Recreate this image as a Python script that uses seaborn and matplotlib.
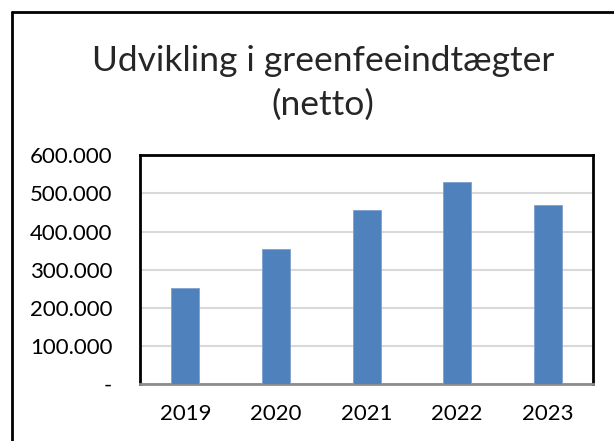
import matplotlib
matplotlib.use("Agg")
import matplotlib.pyplot as plt
from matplotlib.ticker import FuncFormatter
from matplotlib.lines import Line2D
import seaborn as sns
import pandas as pd

years = ["2019", "2020", "2021", "2022", "2023"]
income = [251000, 353500, 457000, 529800, 470200]
y_ticks = [0, 100000, 200000, 300000, 400000, 500000, 600000]

df = pd.DataFrame({"Year": years, "Income": income})

sns.set_style("white")
plt.rcParams["font.family"] = ["Lato", "DejaVu Sans"]

fig = plt.figure(figsize=(6.14, 4.41), dpi=100)
ax = fig.add_axes([0.228, 0.129, 0.738, 0.519])

sns.barplot(data=df, x="Year", y="Income", color="#4F81BD", saturation=1,
            width=0.31, edgecolor="#7FA1CF", linewidth=0.6, ax=ax, zorder=3)

ax.set_ylim(0, 600000)
ax.set_yticks(y_ticks)

def fmt(v, pos):
    if v == 0:
        return "-"
    return f"{int(v):,}".replace(",", ".")

ax.yaxis.set_major_formatter(FuncFormatter(fmt))
ax.yaxis.grid(True, color="#D9D9D9", linewidth=1.5, zorder=0)
ax.set_axisbelow(True)
ax.set_xlabel("")
ax.set_ylabel("")
ax.tick_params(axis="both", length=0, labelsize=16, colors="black")
ax.tick_params(axis="y", pad=20)
ax.tick_params(axis="x", pad=14)

for side in ["left", "top", "right"]:
    ax.spines[side].set_color("black")
    ax.spines[side].set_linewidth(2)
ax.spines["bottom"].set_color("#8C8C8C")
ax.spines["bottom"].set_linewidth(2)

fig.text(0.526, 0.812, "Udvikling i greenfeeindtægter\n(netto)", ha="center",
         va="center", fontsize=25.5, linespacing=1.42)

# outer chart frame (only left and top edges visible)
fig.add_artist(Line2D([0.019, 0.019], [0.0, 0.973], color="black", linewidth=2,
                      transform=fig.transFigure))
fig.add_artist(Line2D([0.019, 1.0], [0.973, 0.973], color="black", linewidth=2,
                      transform=fig.transFigure))

fig.savefig("out.png", dpi=100)
